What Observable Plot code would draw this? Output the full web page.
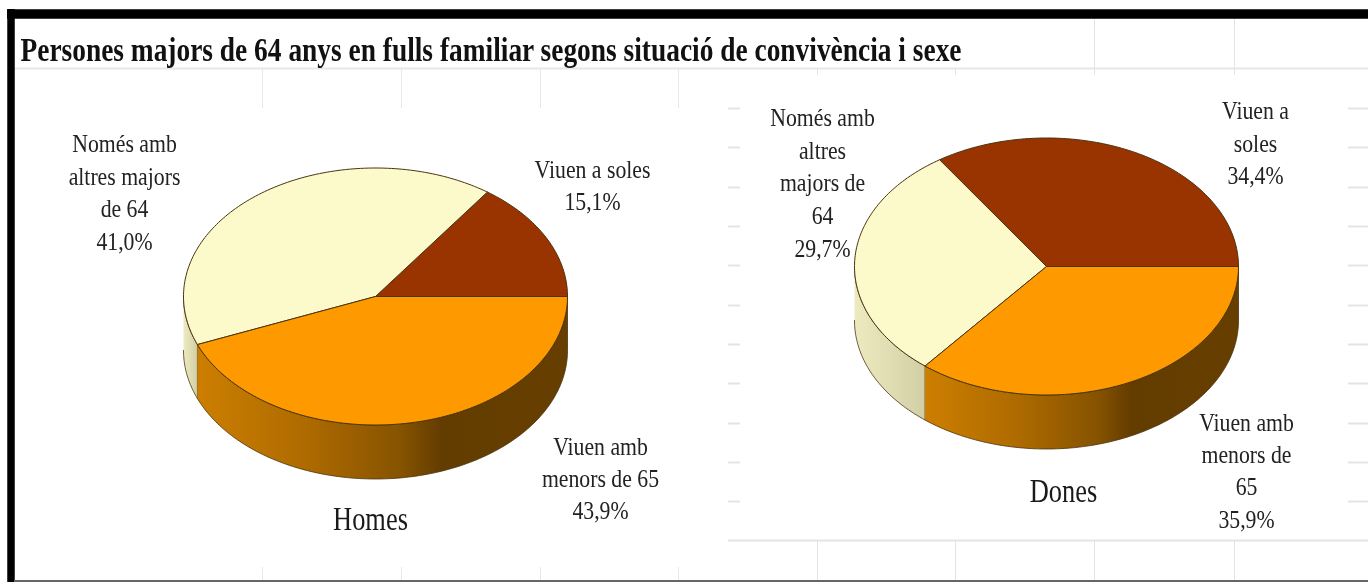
<!DOCTYPE html>
<html>
<head>
<meta charset="utf-8">
<script src="https://cdn.jsdelivr.net/npm/d3@7"></script>
<script src="https://cdn.jsdelivr.net/npm/@observablehq/plot@0.6"></script>
<style>html,body{margin:0;padding:0;background:#fff}svg{display:block;filter:blur(0.45px)}</style>
</head>
<body>
<div id="chart"></div>
<script>
const chartTitle = "Persones majors de 64 anys en fulls familiar segons situació de convivència i sexe";
const categories = ["Viuen a soles", "Només amb altres majors de 64", "Viuen amb menors de 65"];
const homesValues = [15.1, 41.0, 43.9];
const donesValues = [34.4, 29.7, 35.9];
const topColors = ["#993300", "#fcf9cb", "#ff9900"];
const wallFills = ["#662200", "url(#wallCream)", "url(#wallOrange)"];

const homesLabels = [
  {x: 592, y: 169, text: "Viuen a soles"}, {x: 592, y: 201, text: "15,1%"},
  {x: 124, y: 143, text: "Només amb"}, {x: 124, y: 176, text: "altres majors"}, {x: 124, y: 208, text: "de 64"}, {x: 124, y: 241, text: "41,0%"},
  {x: 600, y: 446, text: "Viuen amb"}, {x: 600, y: 478, text: "menors de 65"}, {x: 600, y: 510, text: "43,9%"}
];
const donesLabels = [
  {x: 1255, y: 110, text: "Viuen a"}, {x: 1255, y: 143, text: "soles"}, {x: 1255, y: 175, text: "34,4%"},
  {x: 822, y: 117, text: "Només amb"}, {x: 822, y: 150, text: "altres"}, {x: 822, y: 182, text: "majors de"}, {x: 822, y: 215, text: "64"}, {x: 822, y: 248, text: "29,7%"},
  {x: 1246, y: 422, text: "Viuen amb"}, {x: 1246, y: 454, text: "menors de"}, {x: 1246, y: 486, text: "65"}, {x: 1246, y: 519, text: "35,9%"}
];
const pieNames = [{x: 370, y: 519, text: "Homes"}, {x: 1063, y: 491, text: "Dones"}];

const leftGridX = [262, 401, 540, 678];
const rightGridX = [817, 955, 1094, 1234];
const tickY = [108, 147, 187, 226, 265, 305, 344, 383, 423, 462, 501];

const W = 1368, H = 582;
const RX = 192, RY = 128.5, DEPTH = 54;

// Builds the outline of every slice top and of the visible front wall from the values.
function pieShapes(values, cx, cy, name) {
  const total = d3.sum(values);
  const tops = [], walls = [];
  let start = 0;
  values.forEach((v, i) => {
    const end = start + v / total * 2 * Math.PI;
    const id = name + i;
    const steps = Math.ceil((end - start) / 0.02);
    tops.push({id, i, x: cx, y: cy});
    for (let s = 0; s <= steps; s++) {
      const a = start + (end - start) * s / steps;
      tops.push({id, i, x: cx + RX * Math.cos(a), y: cy - RY * Math.sin(a)});
    }
    tops.push({id, i, x: cx, y: cy});
    const a0 = Math.max(start, Math.PI), a1 = Math.min(end, 2 * Math.PI);
    if (a1 > a0) {
      const n = Math.ceil((a1 - a0) / 0.02);
      const arc = d3.range(n + 1).map(s => a0 + (a1 - a0) * s / n);
      arc.forEach(a => walls.push({id, i, x: cx + RX * Math.cos(a), y: cy - RY * Math.sin(a)}));
      arc.reverse().forEach(a => walls.push({id, i, x: cx + RX * Math.cos(a), y: cy - RY * Math.sin(a) + DEPTH}));
    }
    start = end;
  });
  return {tops, walls};
}

const homes = pieShapes(homesValues, 375, 296, "h");
const dones = pieShapes(donesValues, 1046, 266, "d");
const allTops = homes.tops.concat(dones.tops);
const allWalls = homes.walls.concat(dones.walls);

function gradient(defs, id, stops) {
  const g = defs.append("linearGradient").attr("id", id).attr("x1", 0).attr("x2", 1).attr("y1", 0).attr("y2", 0);
  stops.forEach(([o, c]) => g.append("stop").attr("offset", o).attr("stop-color", c));
}
const gradients = () => {
  const defs = d3.create("svg:defs");
  gradient(defs, "wallOrange", [[0, "#cc7e00"], [0.28, "#b06c00"], [0.55, "#865300"], [0.66, "#633c00"], [1, "#663f00"]]);
  gradient(defs, "wallCream", [[0, "#eeeac0"], [1, "#d2cfa6"]]);
  return defs.node();
};

const serif = "'Liberation Serif', 'Times New Roman', serif";
const labels = homesLabels.concat(donesLabels);

const plot = Plot.plot({
  width: W, height: H,
  margin: 0,
  style: {background: "#fff", fontFamily: serif},
  x: {domain: [0, W], range: [0, W], axis: null},
  y: {domain: [0, H], range: [0, H], axis: null},
  marks: [
    gradients,
    // faint worksheet grid behind the chart
    Plot.ruleY([68], {x1: 14, x2: W, stroke: "#e8e8e8", strokeWidth: 2}),
    Plot.ruleY([540], {x1: 728, x2: W, stroke: "#e4e4e4", strokeWidth: 2}),
    Plot.ruleX(leftGridX, {y1: 68, y2: 108, stroke: "#e8e8e8"}),
    Plot.ruleX(leftGridX, {y1: 567, y2: 580, stroke: "#e8e8e8"}),
    Plot.ruleX(rightGridX, {y1: 68, y2: 75, stroke: "#e4e4e4"}),
    Plot.ruleX(rightGridX, {y1: 540, y2: 580, stroke: "#e4e4e4"}),
    Plot.ruleX(rightGridX.slice(2), {y1: 18, y2: 68, stroke: "#e4e4e4"}),
    Plot.ruleY(tickY, {x1: 728, x2: 740, stroke: "#e4e4e4", strokeWidth: 2}),
    Plot.ruleY(tickY, {x1: 1348, x2: W, stroke: "#e4e4e4", strokeWidth: 2}),
    // frame
    Plot.ruleY([13.5], {x1: 7, x2: W, stroke: "#000", strokeWidth: 9.5}),
    Plot.ruleX([10.5], {y1: 9, y2: 582, stroke: "#000", strokeWidth: 7.5}),
    Plot.ruleY([580.5], {x1: 14, x2: W, stroke: "#666", strokeWidth: 2}),
    // pies
    Plot.line(allWalls, {x: "x", y: "y", z: "id", fill: d => wallFills[d.i], stroke: "#4a3410", strokeWidth: 0.8, curve: "linear"}),
    Plot.line(allTops, {x: "x", y: "y", z: "id", fill: d => topColors[d.i], stroke: "#4a3410", strokeWidth: 1, curve: "linear"}),
    // text
    Plot.text(labels, {x: "x", y: "y", text: "text", fontSize: 25, fill: "#222", lineAnchor: "middle"}),
    Plot.text(pieNames, {x: "x", y: "y", text: "text", fontSize: 33, fill: "#1a1a1a", lineAnchor: "middle"}),
    Plot.text([chartTitle], {x: 20, y: 50, text: d => d, textAnchor: "start", fontSize: 33, fontWeight: "bold", fill: "#111", lineAnchor: "middle"})
  ]
});
document.getElementById("chart").append(plot);

// The reference is horizontally squeezed; condense the glyphs to match.
const TITLE_WIDTH = 941;
plot.querySelectorAll("text").forEach(t => {
  const len = t.getComputedTextLength();
  const isName = pieNames.some(n => n.text === t.textContent);
  const target = t.textContent === chartTitle ? TITLE_WIDTH : len * (isName ? 0.8 : 0.87);
  t.setAttribute("textLength", target);
  t.setAttribute("lengthAdjust", "spacingAndGlyphs");
});
</script>
</body>
</html>
